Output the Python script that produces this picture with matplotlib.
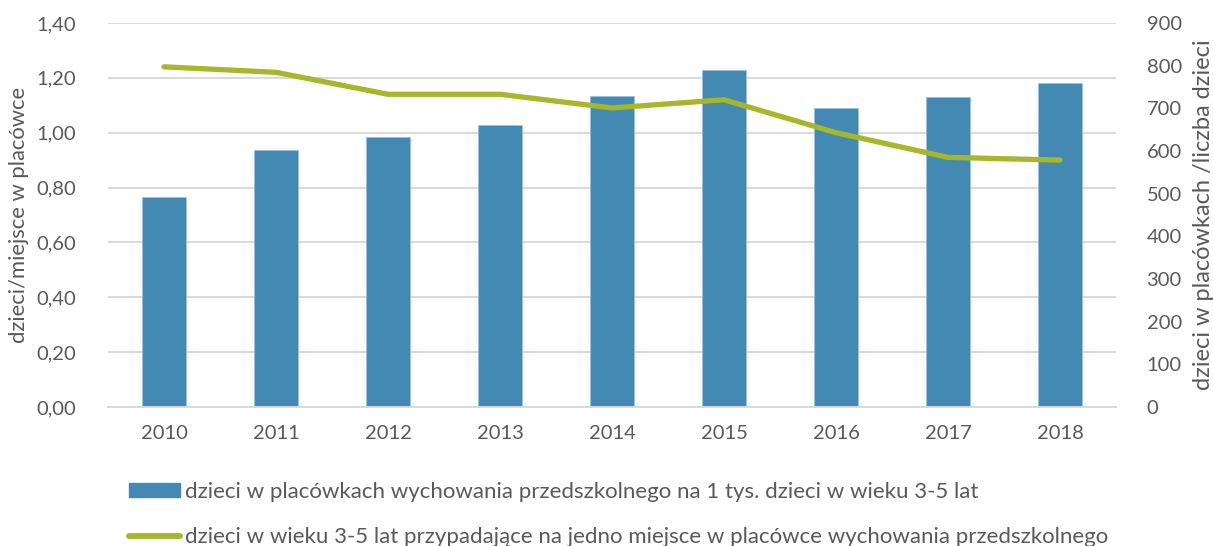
import matplotlib.pyplot as plt
from matplotlib.ticker import FuncFormatter, MultipleLocator
from matplotlib.lines import Line2D
from matplotlib.patches import Patch
import numpy as np

plt.rcParams['font.family'] = ['Lato', 'DejaVu Sans']

years = ["2010", "2011", "2012", "2013", "2014", "2015", "2016", "2017", "2018"]
# dzieci w placówkach na 1 tys. dzieci w wieku 3-5 lat (prawa oś)
children_per_1000 = [492, 602, 633, 660, 729, 790, 700, 726, 760]
# dzieci na jedno miejsce w placówce (lewa oś)
children_per_place = [1.24, 1.22, 1.14, 1.14, 1.09, 1.12, 1.00, 0.91, 0.90]

bar_label = "dzieci w placówkach wychowania przedszkolnego na 1 tys. dzieci w wieku 3-5 lat"
line_label = "dzieci w wieku 3-5 lat przypadające na jedno miejsce w placówce wychowania przedszkolnego"

text_col = "#595959"
grid_col = "#D9D9D9"
bar_col = "#4389B4"
line_col = "#A5B82A"

pos = [0.089, 0.2546, 0.831, 0.7034]
fig = plt.figure(figsize=(12.13, 5.46), dpi=100)
ax = fig.add_axes(pos)          # left scale + grid
ax2 = ax.twinx()                # right scale, bars
ax3 = fig.add_axes(pos, sharex=ax, sharey=ax)  # line on top, left scale
ax3.set_axis_off()

x = np.arange(len(years))

ax.set_ylim(0, 1.4)
ax.yaxis.set_major_locator(MultipleLocator(0.2))
ax.yaxis.set_major_formatter(FuncFormatter(lambda v, p: f"{v:.2f}".replace(".", ",")))
ax.set_xlim(-0.5, len(years) - 0.5)
ax.set_xticks(x)
ax.set_xticklabels(years)
ax.grid(axis="y", color=grid_col, linewidth=1.4)
ax.set_axisbelow(True)

ax2.bar(x, children_per_1000, width=0.4, color=bar_col, edgecolor="#9CC3DC", linewidth=0.6, zorder=2)
ax2.set_ylim(0, 900)
ax2.yaxis.set_major_locator(MultipleLocator(100))

ax3.plot(x, children_per_place, color=line_col, linewidth=3.8, solid_capstyle="round", solid_joinstyle="round")

for a in (ax, ax2):
    for s in ["top", "left", "right"]:
        a.spines[s].set_visible(False)
    a.spines["bottom"].set_color(grid_col)
    a.spines["bottom"].set_linewidth(1.4)
    a.tick_params(length=0, labelsize=14.5, colors=text_col)

ax.tick_params(axis="y", pad=23)
ax.tick_params(axis="x", pad=13)
ax2.tick_params(axis="y", pad=22)

ax.set_ylabel("dzieci/miejsce w placówce", fontsize=15.8, color=text_col, labelpad=5)
ax2.set_ylabel("dzieci w placówkach /liczba dzieci", fontsize=17, color=text_col, labelpad=8)

handles = [Patch(facecolor=bar_col, edgecolor=bar_col),
           Line2D([0], [0], color=line_col, linewidth=4.2, solid_capstyle="round")]
fig.legend(handles, [bar_label, line_label], loc="upper left", bbox_to_anchor=(0.099, 0.134),
           frameon=False, fontsize=16, labelcolor=text_col, labelspacing=1.15,
           handlelength=2.3, handleheight=0.6, handletextpad=0.2, borderaxespad=0)

fig.savefig("out.png", dpi=100)
